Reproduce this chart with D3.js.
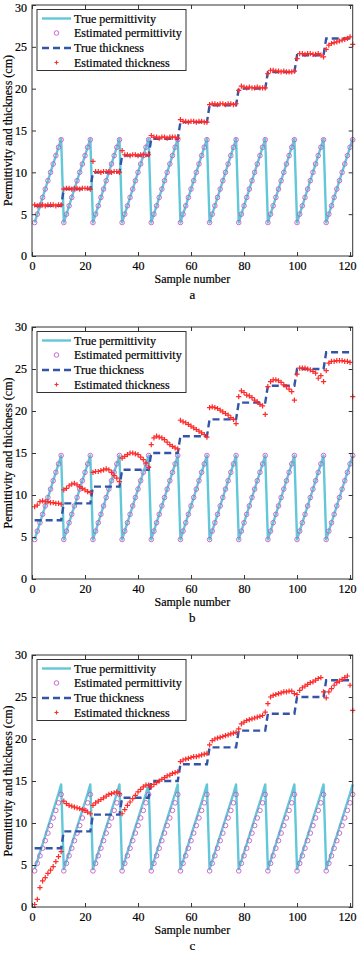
<!DOCTYPE html>
<html><head><meta charset="utf-8">
<script src="https://cdn.jsdelivr.net/npm/d3@7/dist/d3.min.js"></script>
<style>
html,body{margin:0;padding:0;background:#fff;}
svg{display:block;}
text{font-family:"Liberation Serif","Times New Roman",serif;fill:#000;stroke:#000;stroke-width:0.2px;}
</style></head>
<body>
<svg id="chart" width="358" height="954"></svg>
<script>
const sampleNo = [
 1,2,3,4,5,6,7,8,9,10,11, 12,13,14,15,16,17,18,19,20,21,22,
 23,24,25,26,27,28,29,30,31,32,33, 34,35,36,37,38,39,40,41,42,43,44,
 45,46,47,48,49,50,51,52,53,54,55, 56,57,58,59,60,61,62,63,64,65,66,
 67,68,69,70,71,72,73,74,75,76,77, 78,79,80,81,82,83,84,85,86,87,88,
 89,90,91,92,93,94,95,96,97,98,99, 100,101,102,103,104,105,106,107,108,109,110,
 111,112,113,114,115,116,117,118,119,120,121];

const xTicks = [0,20,40,60,80,100,120];
const yTicks = [0,5,10,15,20,25,30];
const legendLabels = ["True permittivity","Estimated permittivity","True thickness","Estimated thickness"];
const panelLetters = ["a","b","c"];
const xLabel = "Sample number";
const yLabel = "Permittivity and thickness (cm)";

// ---------- panel a ----------
const permTrueA = [
 4,5,6,7,8,9,10,11,12,13,14, 4,5,6,7,8,9,10,11,12,13,14,
 4,5,6,7,8,9,10,11,12,13,14, 4,5,6,7,8,9,10,11,12,13,14,
 4,5,6,7,8,9,10,11,12,13,14, 4,5,6,7,8,9,10,11,12,13,14,
 4,5,6,7,8,9,10,11,12,13,14, 4,5,6,7,8,9,10,11,12,13,14,
 4,5,6,7,8,9,10,11,12,13,14, 4,5,6,7,8,9,10,11,12,13,14,
 4,5,6,7,8,9,10,11,12,13,14];
const permEstA = [
 4,5,6,7,8,9,10,11,12,13,13.9, 4,5,6,7,8,9,10,11,12,13,13.9,
 4,5,6,7,8,9,10,11,12,13,13.9, 4,5,6,7,8,9,10,11,12,13,13.9,
 4,5,6,7,8,9,10,11,12,13,13.9, 4,5,6,7,8,9,10,11,12,13,13.9,
 4,5,6,7,8,9,10,11,12,13,13.9, 4,5,6,7,8,9,10,11,12,13,13.9,
 4,5,6,7,8,9,10,11,12,13,13.9, 4,5,6,7,8,9,10,11,12,13,13.9,
 4,5,6,7,8,9,10,11,12,13,13.9];
const thickTrueA = [
 6,6,6,6,6,6,6,6,6,6,6, 8,8,8,8,8,8,8,8,8,8,8,
 10,10,10,10,10,10,10,10,10,10,10, 12,12,12,12,12,12,12,12,12,12,12,
 14,14,14,14,14,14,14,14,14,14,14, 16,16,16,16,16,16,16,16,16,16,16,
 18,18,18,18,18,18,18,18,18,18,18, 20,20,20,20,20,20,20,20,20,20,20,
 22,22,22,22,22,22,22,22,22,22,22, 24,24,24,24,24,24,24,24,24,24,24,
 26,26,26,26,26,26,26,26,26,26,26];
const thickEstA = [
 6.1,6.0,6.1,6.1,6.0,6.1,6.1,6.1,6.0,6.1,6.1,
 8.0,8.1,8.1,8.0,8.1,8.1,8.0,8.1,8.1,8.1,8.0,
 11.3,10.1,10.1,10.0,10.1,10.1,10.1,10.0,10.1,10.1,10.0,
 12.6,12.1,12.1,12.0,12.1,12.1,12.0,12.1,12.1,12.1,12.1,
 14.4,14.2,14.2,14.1,14.2,14.2,14.1,14.2,14.2,14.2,14.1,
 16.3,16.1,16.1,16.0,16.1,16.1,16.0,16.1,16.1,16.0,16.0,
 18.1,18.2,18.2,18.1,18.2,18.2,18.1,18.2,18.2,18.1,18.2,
 19.8,20.3,20.2,20.1,20.2,20.1,20.1,20.2,20.1,20.1,20.1,
 21.8,22.2,22.2,22.1,22.1,22.0,22.1,22.0,22.0,22.0,22.1,
 23.6,24.2,24.2,24.1,24.2,24.2,24.1,24.1,24.2,24.0,23.8,
 24.7,25.2,25.4,25.5,25.6,25.7,25.8,25.9,26.0,26.2,25.3];

// ---------- panel b ----------
const permTrueB = [
 4.7,5.7,6.7,7.7,8.7,9.7,10.7,11.7,12.7,13.7,14.7, 4.7,5.7,6.7,7.7,8.7,9.7,10.7,11.7,12.7,13.7,14.7,
 4.7,5.7,6.7,7.7,8.7,9.7,10.7,11.7,12.7,13.7,14.7, 4.7,5.7,6.7,7.7,8.7,9.7,10.7,11.7,12.7,13.7,14.7,
 4.7,5.7,6.7,7.7,8.7,9.7,10.7,11.7,12.7,13.7,14.7, 4.7,5.7,6.7,7.7,8.7,9.7,10.7,11.7,12.7,13.7,14.7,
 4.7,5.7,6.7,7.7,8.7,9.7,10.7,11.7,12.7,13.7,14.7, 4.7,5.7,6.7,7.7,8.7,9.7,10.7,11.7,12.7,13.7,14.7,
 4.7,5.7,6.7,7.7,8.7,9.7,10.7,11.7,12.7,13.7,14.7, 4.7,5.7,6.7,7.7,8.7,9.7,10.7,11.7,12.7,13.7,14.7,
 4.7,5.7,6.7,7.7,8.7,9.7,10.7,11.7,12.7,13.7,14.7];
const permEstB = [
 4.7,5.7,6.7,7.7,8.7,9.7,10.7,11.7,12.7,13.7,14.7, 4.7,5.7,6.7,7.7,8.7,9.7,10.7,11.7,12.7,13.7,14.7,
 4.7,5.7,6.7,7.7,8.7,9.7,10.7,11.7,12.7,13.7,14.7, 4.7,5.7,6.7,7.7,8.7,9.7,10.7,11.7,12.7,13.7,14.7,
 4.7,5.7,6.7,7.7,8.7,9.7,10.7,11.7,12.7,13.7,14.7, 4.7,5.7,6.7,7.7,8.7,9.7,10.7,11.7,12.7,13.7,14.7,
 4.7,5.7,6.7,7.7,8.7,9.7,10.7,11.7,12.7,13.7,14.7, 4.7,5.7,6.7,7.7,8.7,9.7,10.7,11.7,12.7,13.7,14.7,
 4.7,5.7,6.7,7.7,8.7,9.7,10.7,11.7,12.7,13.7,14.7, 4.7,5.7,6.7,7.7,8.7,9.7,10.7,11.7,12.7,13.7,14.7,
 4.7,5.7,6.7,7.7,8.7,9.7,10.7,11.7,12.7,13.7,14.7];
const thickTrueB = [
 7,7,7,7,7,7,7,7,7,7,7, 9,9,9,9,9,9,9,9,9,9,9,
 11,11,11,11,11,11,11,11,11,11,11, 13,13,13,13,13,13,13,13,13,13,13,
 15,15,15,15,15,15,15,15,15,15,15, 17,17,17,17,17,17,17,17,17,17,17,
 19,19,19,19,19,19,19,19,19,19,19, 21,21,21,21,21,21,21,21,21,21,21,
 23,23,23,23,23,23,23,23,23,23,23, 25,25,25,25,25,25,25,25,25,25,25,
 27,27,27,27,27,27,27,27,27,27,27];
const thickEstB = [
 8.6,8.8,9.2,9.3,9.2,9.2,9.1,9.1,9.0,9.0,8.9,
 10.6,10.8,11.1,11.3,11.4,11.2,11.0,10.8,10.6,10.4,10.3,
 12.7,12.8,12.8,12.9,13.0,13.1,13.0,12.7,12.3,12.0,11.6,
 14.4,14.6,14.8,15.0,15.0,14.9,14.8,14.5,14.2,13.8,13.3,
 16.0,16.8,17.0,16.9,16.8,16.6,16.3,16.0,15.8,15.6,15.5,
 18.9,18.7,18.6,18.4,18.2,18.0,17.8,17.6,17.4,17.2,16.9,
 20.4,20.5,20.4,20.3,20.1,19.9,19.7,19.5,19.2,19.0,18.5,
 21.7,22.4,22.2,21.9,21.8,21.6,21.3,21.1,20.8,20.6,19.6,
 22.9,23.5,23.7,23.7,23.6,23.4,23.1,22.9,22.6,22.3,21.3,
 24.4,25.1,25.1,25.1,25.0,24.9,24.7,24.5,23.9,24.2,23.5,
 24.8,25.7,25.9,25.9,26.0,26.0,26.0,25.9,25.9,25.8,21.7];

// ---------- panel c ----------
const permTrueC = [
 4.5,5.5,6.5,7.5,8.5,9.5,10.5,11.5,12.5,13.5,14.6, 4.5,5.5,6.5,7.5,8.5,9.5,10.5,11.5,12.5,13.5,14.6,
 4.5,5.5,6.5,7.5,8.5,9.5,10.5,11.5,12.5,13.5,14.6, 4.5,5.5,6.5,7.5,8.5,9.5,10.5,11.5,12.5,13.5,14.6,
 4.5,5.5,6.5,7.5,8.5,9.5,10.5,11.5,12.5,13.5,14.6, 4.5,5.5,6.5,7.5,8.5,9.5,10.5,11.5,12.5,13.5,14.6,
 4.5,5.5,6.5,7.5,8.5,9.5,10.5,11.5,12.5,13.5,14.6, 4.5,5.5,6.5,7.5,8.5,9.5,10.5,11.5,12.5,13.5,14.6,
 4.5,5.5,6.5,7.5,8.5,9.5,10.5,11.5,12.5,13.5,14.6, 4.5,5.5,6.5,7.5,8.5,9.5,10.5,11.5,12.5,13.5,14.6,
 4.5,5.5,6.5,7.5,8.5,9.5,10.5,11.5,12.5,13.5,14.6];
const permEstC = [
 4.3,5.2,6.1,7.0,7.9,8.8,9.7,10.6,11.5,12.4,13.4, 4.3,5.2,6.1,7.0,7.9,8.8,9.7,10.6,11.5,12.4,13.4,
 4.3,5.2,6.1,7.0,7.9,8.8,9.7,10.6,11.5,12.4,13.4, 4.3,5.2,6.1,7.0,7.9,8.8,9.7,10.6,11.5,12.4,13.4,
 4.3,5.2,6.1,7.0,7.9,8.8,9.7,10.6,11.5,12.4,13.4, 4.3,5.2,6.1,7.0,7.9,8.8,9.7,10.6,11.5,12.4,13.4,
 4.3,5.2,6.1,7.0,7.9,8.8,9.7,10.6,11.5,12.4,13.4, 4.3,5.2,6.1,7.0,7.9,8.8,9.7,10.6,11.5,12.4,13.4,
 4.3,5.2,6.1,7.0,7.9,8.8,9.7,10.6,11.5,12.4,13.4, 4.3,5.2,6.1,7.0,7.9,8.8,9.7,10.6,11.5,12.4,13.4,
 4.3,5.2,6.1,7.0,7.9,8.8,9.7,10.6,11.5,12.4,13.4];
const thickTrueC = [
 7,7,7,7,7,7,7,7,7,7,7, 9,9,9,9,9,9,9,9,9,9,9,
 11,11,11,11,11,11,11,11,11,11,11, 13,13,13,13,13,13,13,13,13,13,13,
 15,15,15,15,15,15,15,15,15,15,15, 17,17,17,17,17,17,17,17,17,17,17,
 19,19,19,19,19,19,19,19,19,19,19, 21,21,21,21,21,21,21,21,21,21,21,
 23,23,23,23,23,23,23,23,23,23,23, 25,25,25,25,25,25,25,25,25,25,25,
 27,27,27,27,27,27,27,27,27,27,27];
const thickEstC = [
 0.3,0.9,2.3,3.1,3.5,4.0,4.4,4.8,5.4,6.0,6.6,
 12.6,12.3,12.1,12.0,11.9,11.8,11.7,11.6,11.5,11.3,11.1,
 12.1,12.4,12.6,12.8,13.0,13.2,13.4,13.5,13.6,13.7,13.5,
 11.1,11.6,12.1,12.5,12.9,13.3,13.7,14.0,14.3,14.5,14.5,
 14.3,14.6,14.8,15.0,15.2,15.4,15.6,15.7,15.9,16.0,16.1,
 17.3,17.5,17.6,17.7,17.8,17.9,17.9,18.0,18.1,18.2,18.3,
 19.3,19.8,20.0,20.1,20.2,20.3,20.4,20.5,20.6,20.7,20.8,
 21.2,21.8,22.0,22.2,22.3,22.4,22.5,22.6,22.7,22.8,23.2,
 24.2,25.0,25.2,25.3,25.4,25.5,25.6,25.6,25.7,25.7,25.4,
 25.3,25.8,26.1,26.3,26.5,26.7,26.8,27.0,27.2,27.3,25.6,
 24.9,25.6,26.0,26.4,26.7,26.9,27.1,27.3,27.5,26.4,23.4];

// ---------- drawing ----------
const COL_PERM = "#62c8d8";
const COL_EPERM = "#c45ec4";
const COL_THICK = "#3454a8";
const COL_ETHICK = "#ff2a2a";

const svg = d3.select("#chart");
const plotLeft = 32, plotRight = 352.7;
const panelTops = [5, 327, 655];
const panelHeights = [251, 252, 252];

const panels = [
  {pt: permTrueA, pe: permEstA, tt: thickTrueA, te: thickEstA},
  {pt: permTrueB, pe: permEstB, tt: thickTrueB, te: thickEstB},
  {pt: permTrueC, pe: permEstC, tt: thickTrueC, te: thickEstC}
];

panels.forEach((p, i) => {
  const top = panelTops[i], plotH = panelHeights[i], bottom = top + plotH;
  const x = d3.scaleLinear().domain([0, 121]).range([plotLeft, plotRight]);
  const y = d3.scaleLinear().domain([0, 30]).range([bottom, top]);
  const g = svg.append("g");

  // marks
  const line = d3.line().x((d, k) => x(sampleNo[k])).y(d => y(d));
  g.append("path").datum(p.pt).attr("d", line)
    .attr("fill", "none").attr("stroke", COL_PERM).attr("stroke-width", 2.4).attr("stroke-linejoin", "round");
  g.append("g").selectAll("circle").data(p.pe).join("circle")
    .attr("cx", (d, k) => x(sampleNo[k])).attr("cy", d => y(d)).attr("r", 2.3)
    .attr("fill", "none").attr("stroke", COL_EPERM).attr("stroke-width", 0.9);
  g.append("path").datum(p.tt).attr("d", line)
    .attr("fill", "none").attr("stroke", COL_THICK).attr("stroke-width", 2.4).attr("stroke-dasharray", "7,4");
  g.append("g").selectAll("path").data(p.te).join("path")
    .attr("d", "M-2.6,0H2.6M0,-2.6V2.6")
    .attr("transform", (d, k) => `translate(${x(sampleNo[k])},${y(d)})`)
    .attr("stroke", COL_ETHICK).attr("stroke-width", 1.2).attr("fill", "none");

  // axes (inward ticks)
  const fs = "12px";
  const ax = g.append("g").attr("transform", `translate(0,${bottom})`)
    .call(d3.axisBottom(x).tickValues(xTicks).tickSizeInner(-4).tickSizeOuter(0).tickPadding(5));
  const ay = g.append("g").attr("transform", `translate(${plotLeft},0)`)
    .call(d3.axisLeft(y).tickValues(yTicks).tickSizeInner(-4).tickSizeOuter(0).tickPadding(5));
  const at = g.append("g").attr("transform", `translate(0,${top})`)
    .call(d3.axisTop(x).tickValues(xTicks).tickSizeInner(-4).tickSizeOuter(0).tickFormat(""));
  const ar = g.append("g").attr("transform", `translate(${plotRight},0)`)
    .call(d3.axisRight(y).tickValues(yTicks).tickSizeInner(-4).tickSizeOuter(0).tickFormat(""));
  [ax, ay, at, ar].forEach(a => {
    a.select(".domain").remove();
    a.selectAll("line").attr("stroke", "#333");
    a.selectAll("text").style("font-family", "'Liberation Serif',serif").style("font-size", fs)
      .attr("fill", "#000").attr("stroke", "#000").attr("stroke-width", 0.2);
  });
  // keep edge labels inside the picture
  if (i === 0) ay.selectAll(".tick").filter(d => d === 30).select("text").attr("dy", "0.55em");
  ax.selectAll(".tick").filter(d => d === 120).select("text").attr("dx", -3);

  g.append("rect").attr("x", plotLeft).attr("y", top).attr("width", plotRight - plotLeft).attr("height", plotH)
    .attr("fill", "none").attr("stroke", "#333").attr("stroke-width", 1);

  // axis titles
  g.append("text").attr("x", (plotLeft + plotRight) / 2).attr("y", bottom + 27)
    .attr("text-anchor", "middle").style("font-size", fs).text(xLabel);
  g.append("text").attr("transform", `translate(12,${(top + bottom) / 2}) rotate(-90)`)
    .attr("text-anchor", "middle").style("font-size", fs).text(yLabel);
  g.append("text").attr("x", (plotLeft + plotRight) / 2).attr("y", bottom + 43)
    .attr("text-anchor", "middle").style("font-size", "13px").text(panelLetters[i]);

  // legend
  const lg = g.append("g").attr("transform", `translate(37,${top + 4.5})`);
  lg.append("rect").attr("x", 0).attr("y", 0).attr("width", 149).attr("height", 61)
    .attr("fill", "#fff").attr("stroke", "#333").attr("stroke-width", 1);
  const rowY = [9, 23.5, 38.5, 53];
  lg.append("line").attr("x1", 5).attr("x2", 34).attr("y1", rowY[0]).attr("y2", rowY[0])
    .attr("stroke", COL_PERM).attr("stroke-width", 2.4);
  lg.append("circle").attr("cx", 19.5).attr("cy", rowY[1]).attr("r", 2.3)
    .attr("fill", "none").attr("stroke", COL_EPERM).attr("stroke-width", 0.9);
  lg.append("line").attr("x1", 5).attr("x2", 34).attr("y1", rowY[2]).attr("y2", rowY[2])
    .attr("stroke", COL_THICK).attr("stroke-width", 2.4).attr("stroke-dasharray", "7,4");
  lg.append("path").attr("d", "M-2,0H2M0,-2V2").attr("transform", `translate(19.5,${rowY[3]})`)
    .attr("stroke", COL_ETHICK).attr("stroke-width", 1.2);
  legendLabels.forEach((t, k) => {
    lg.append("text").attr("x", 37).attr("y", rowY[k] + 4.2).style("font-size", fs).text(t);
  });
});
</script>
</body></html>
